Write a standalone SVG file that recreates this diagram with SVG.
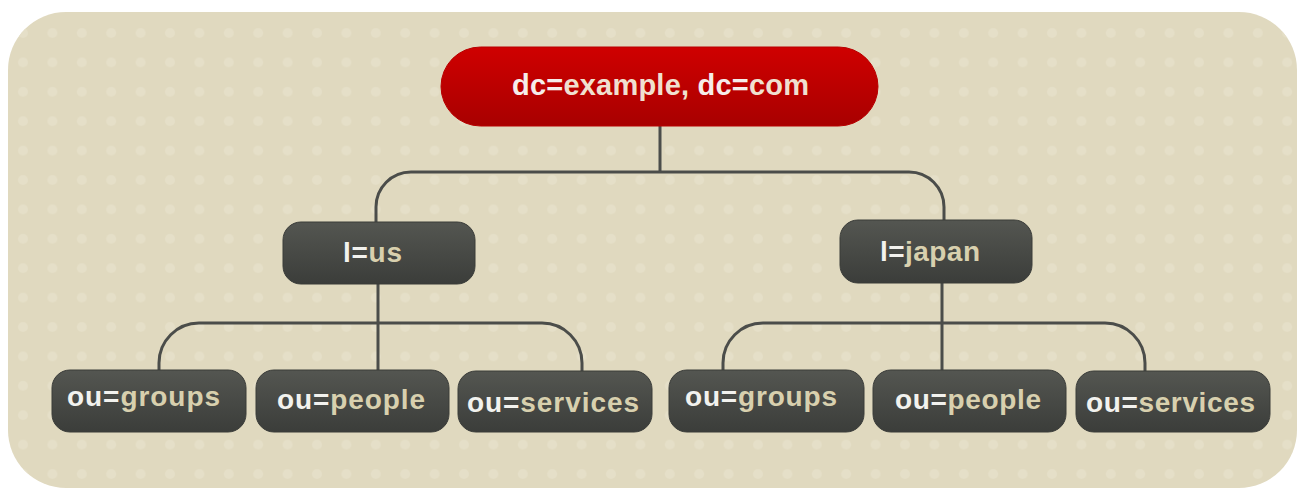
<svg xmlns="http://www.w3.org/2000/svg" width="1298" height="488" viewBox="0 0 1298 488">
<defs>
<pattern id="dots" x="8.3" y="18.3" width="29.4" height="29.4" patternUnits="userSpaceOnUse">
<circle cx="14.7" cy="14.7" r="5" fill="#e5dfc8"/>
</pattern>
<linearGradient id="red" x1="0" y1="0" x2="0" y2="1">
<stop offset="0" stop-color="#cf0000"/>
<stop offset="1" stop-color="#a80000"/>
</linearGradient>
<linearGradient id="dark" x1="0" y1="0" x2="0" y2="1">
<stop offset="0" stop-color="#545651"/>
<stop offset="1" stop-color="#3b3d3a"/>
</linearGradient>
</defs>
<style>
.bx{fill:url(#dark);stroke:#3a3c39;stroke-width:1}
.rd{fill:url(#red);stroke:#b80000;stroke-width:1}
.t{font-family:"Liberation Sans",Arial,sans-serif;font-weight:bold;font-size:28px}
.w{fill:#f2f2ee}
.c{fill:#d8d0ae}
.rw{fill:#f6ecea}
.rc{fill:#f0e0d0}
.cn{fill:none;stroke:#4b4d4a;stroke-width:3;stroke-linecap:butt}
</style>
<rect x="8" y="12" width="1289" height="476" rx="58" fill="#e0d9bf"/>
<rect x="8" y="12" width="1289" height="476" rx="58" fill="url(#dots)"/>
<g id="connectors">
<path class="cn" d="M660,126 V172"/>
<path class="cn" d="M376,222 V207 A35,35 0 0 1 411,172 H909 A35,35 0 0 1 944,207 V220"/>
<path class="cn" d="M378,284 V370"/>
<path class="cn" d="M159,370 V363 A40,40 0 0 1 199,323 H542 A40,40 0 0 1 582,363 V371"/>
<path class="cn" d="M942,283 V370"/>
<path class="cn" d="M723,370 V363 A40,40 0 0 1 763,323 H1105 A40,40 0 0 1 1145,363 V371"/>
</g>
<g id="root">
<rect class="rd" x="441" y="47" width="437" height="79" rx="39.5"/>
<text class="t" x="512" y="95" style="font-size:29px" textLength="297"><tspan class="rw">dc=</tspan><tspan class="rc">example, </tspan><tspan class="rw">dc=</tspan><tspan class="rc">com</tspan></text>
</g>
<g id="l-us">
<rect class="bx" x="283" y="222" width="192" height="62" rx="18"/>
<text class="t" x="343" y="262" textLength="59"><tspan class="w">l=</tspan><tspan class="c">us</tspan></text>
</g>
<g id="l-japan">
<rect class="bx" x="840" y="220" width="192" height="63" rx="18"/>
<text class="t" x="880" y="261" textLength="100"><tspan class="w">l=</tspan><tspan class="c">japan</tspan></text>
</g>
<g id="us-groups">
<rect class="bx" x="52" y="370" width="194" height="62" rx="18"/>
<text class="t" x="67" y="406" textLength="153"><tspan class="w">ou=</tspan><tspan class="c">groups</tspan></text>
</g>
<g id="us-people">
<rect class="bx" x="256" y="370" width="193" height="62" rx="18"/>
<text class="t" x="277" y="409" textLength="148"><tspan class="w">ou=</tspan><tspan class="c">people</tspan></text>
</g>
<g id="us-services">
<rect class="bx" x="458" y="371" width="194" height="61" rx="18"/>
<text class="t" x="467" y="412" textLength="172"><tspan class="w">ou=</tspan><tspan class="c">services</tspan></text>
</g>
<g id="japan-groups">
<rect class="bx" x="669" y="370" width="195" height="62" rx="18"/>
<text class="t" x="685" y="406" textLength="152"><tspan class="w">ou=</tspan><tspan class="c">groups</tspan></text>
</g>
<g id="japan-people">
<rect class="bx" x="873" y="370" width="193" height="62" rx="18"/>
<text class="t" x="895" y="409" textLength="146"><tspan class="w">ou=</tspan><tspan class="c">people</tspan></text>
</g>
<g id="japan-services">
<rect class="bx" x="1076" y="371" width="194" height="61" rx="18"/>
<text class="t" x="1086" y="412" textLength="169"><tspan class="w">ou=</tspan><tspan class="c">services</tspan></text>
</g>
</svg>
